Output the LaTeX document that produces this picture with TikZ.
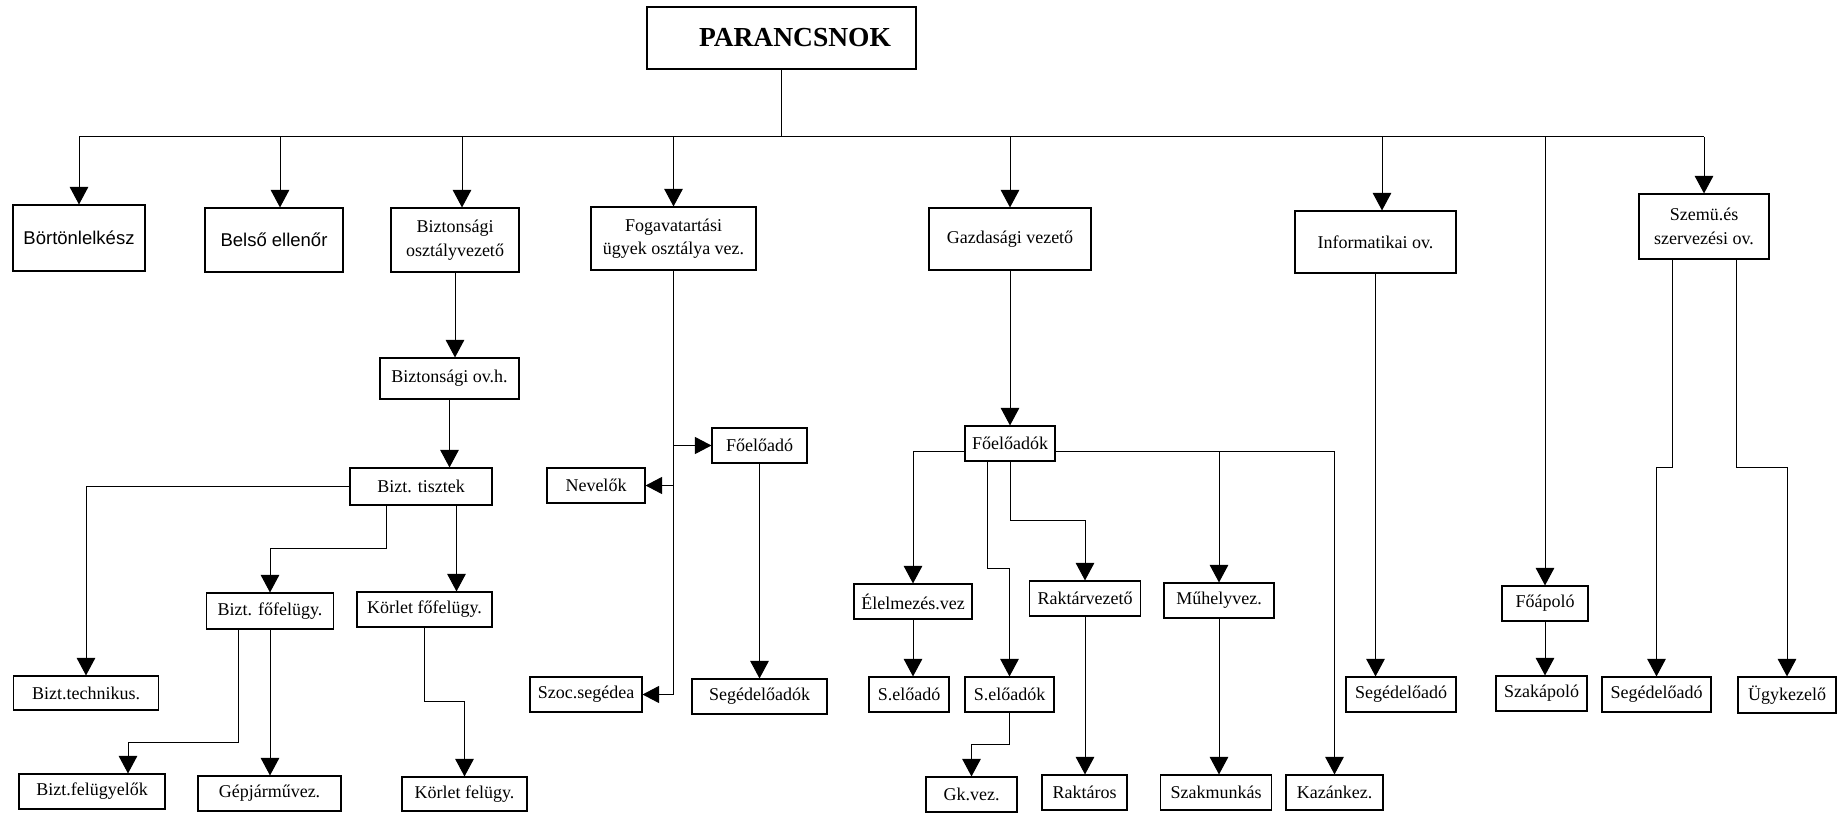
\documentclass[tikz,border=0pt]{standalone}
\usepackage{fontspec}
\setmainfont{Liberation Serif}
\newfontfamily\arialfont{Liberation Sans}
\usepackage{tikz}
\usetikzlibrary{arrows.meta}
\tikzstyle{box} = [draw, line width=1.1pt, inner sep=0pt, align=center, font=\fontsize{18}{23.5}\selectfont]
\tikzstyle{sansbox} = [box, font=\arialfont\fontsize{18.5}{22}\selectfont]
\tikzstyle{arr} = [-{Triangle[length=17.5pt,width=18.5pt]}]
\tikzstyle{sidearr} = [-{Triangle[length=16.5pt,width=17pt]}]

\begin{document}
\begin{tikzpicture}[x=1pt,y=-1pt,line width=1pt]
\useasboundingbox (0,0) rectangle (1838,813);
\node[box, minimum width=269pt, minimum height=62pt, font=\bfseries\fontsize{27.5}{33}\selectfont] (cmd) at (781.5,38) {\hspace*{27pt}PARANCSNOK};
\node[sansbox, minimum width=132pt, minimum height=66pt] (bortonlelkesz) at (79,238) {Börtönlelkész};
\node[sansbox, minimum width=138pt, minimum height=64pt] (belso) at (274,240) {Belső ellenőr};
\node[box, minimum width=128pt, minimum height=64pt] (biztov) at (455,240) {Biztonsági\\osztályvezető};
\node[box, minimum width=165pt, minimum height=63pt] (fogav) at (673.5,238.5) {Fogavatartási\\ügyek osztálya vez.};
\node[box, minimum width=162pt, minimum height=62pt] (gazd) at (1010,239) {Gazdasági vezető};
\node[box, minimum width=161pt, minimum height=62pt] (inform) at (1375.5,242) {Informatikai ov.};
\node[box, minimum width=130pt, minimum height=65pt] (szemu) at (1704,226.5) {Szemü.és\\szervezési ov.};

\node[box, minimum width=139pt, minimum height=41pt] (biztovh) at (449.5,378.5) {Biztonsági ov.h.};
\node[box, minimum width=142pt, minimum height=37pt] (tisztek) at (421,486.5) {Bizt. tisztek};
\node[box, minimum width=145pt, minimum height=34pt] (technikus) at (86,693) {Bizt.technikus.};
\node[box, minimum width=127pt, minimum height=36pt] (fofelugy) at (270,611) {Bizt. főfelügy.};
\node[box, minimum width=135pt, minimum height=35pt] (korletfo) at (424.5,609.5) {Körlet főfelügy.};
\node[box, minimum width=125pt, minimum height=34pt] (korlet) at (464.5,794) {Körlet felügy.};
\node[box, minimum width=146pt, minimum height=35pt] (felugyelok) at (92,791.5) {Bizt.felügyelők};
\node[box, minimum width=143pt, minimum height=35pt] (gepjarmu) at (269.5,793.5) {Gépjárművez.};

\node[box, minimum width=95pt, minimum height=35pt] (foeloado) at (759.5,445.5) {Főelőadó};
\node[box, minimum width=98pt, minimum height=35pt] (nevelok) at (596,485.5) {Nevelők};
\node[box, minimum width=112pt, minimum height=35pt] (szoc) at (586,694.5) {Szoc.segédea};
\node[box, minimum width=135pt, minimum height=35pt] (segedeloadok) at (759.5,696.5) {Segédelőadók};

\node[box, minimum width=90pt, minimum height=35pt] (foeloadok) at (1010,443.5) {Főelőadók};
\node[box, minimum width=118pt, minimum height=35pt] (elelmezes) at (913,601.5) {Élelmezés.vez};
\node[box, minimum width=80pt, minimum height=35pt] (seloado) at (909,694.5) {S.előadó};
\node[box, minimum width=89pt, minimum height=35pt] (seloadok) at (1009.5,694.5) {S.előadók};
\node[box, minimum width=91pt, minimum height=35pt] (gkvez) at (971.5,794.5) {Gk.vez.};
\node[box, minimum width=111pt, minimum height=35pt] (raktarvez) at (1085,598.5) {Raktárvezető};
\node[box, minimum width=85pt, minimum height=35pt] (raktaros) at (1084.5,792.5) {Raktáros};
\node[box, minimum width=110pt, minimum height=35pt] (muhely) at (1219,600.5) {Műhelyvez.};
\node[box, minimum width=111pt, minimum height=35pt] (szakmunkas) at (1216,792.5) {Szakmunkás};
\node[box, minimum width=97pt, minimum height=35pt] (kazan) at (1334.5,792.5) {Kazánkez.};

\node[box, minimum width=110pt, minimum height=35pt] (segedinf) at (1401,694.5) {Segédelőadó};
\node[box, minimum width=86pt, minimum height=35pt] (foapolo) at (1545,603.5) {Főápoló};
\node[box, minimum width=91pt, minimum height=35pt] (szakapolo) at (1541.5,693.5) {Szakápoló};
\node[box, minimum width=109pt, minimum height=35pt] (segedszem) at (1656.5,694.5) {Segédelőadó};
\node[box, minimum width=98pt, minimum height=36pt] (ugykezelo) at (1787,695) {Ügykezelő};

\coordinate (busL) at (79,137);
\coordinate (busR) at (1704,137);
\draw (cmd.south) -- (cmd.south |- busL);
\draw (busL) -- (busR);
\draw[arr] (busL) -- (bortonlelkesz.north);
\draw[arr] ([xshift=6pt]belso.north |- busL) -- ([xshift=6pt]belso.north);
\draw[arr] ([xshift=7pt]biztov.north |- busL) -- ([xshift=7pt]biztov.north);
\draw[arr] (fogav.north |- busL) -- (fogav.north);
\draw[arr] (gazd.north |- busL) -- (gazd.north);
\draw[arr] ([xshift=6.5pt]inform.north |- busL) -- ([xshift=6.5pt]inform.north);
\draw[arr] (foapolo.north |- busL) -- (foapolo.north);
\draw[arr] (busR) -- (szemu.north);

\draw[arr] (biztov.south) -- (biztov.south |- biztovh.north);
\draw[arr] (biztovh.south) -- (biztovh.south |- tisztek.north);
\draw[arr] (tisztek.west) -| (technikus.north);
\draw[arr] ([xshift=-35pt]tisztek.south) -- ++(0,43) -| (fofelugy.north);
\draw[arr] ([xshift=35.5pt]tisztek.south) -- ([xshift=35.5pt]tisztek.south |- korletfo.north);
\draw[arr] (korletfo.south) -- ++(0,74) -| (korlet.north);
\draw[arr] ([xshift=-32pt]fofelugy.south) -- ++(0,113) -| ([xshift=36pt]felugyelok.north);
\draw[arr] (fofelugy.south) -- (fofelugy.south |- gepjarmu.north);

\draw[sidearr] (fogav.south) |- (szoc.east);
\draw[sidearr] (fogav.south |- foeloado.west) -- (foeloado.west);
\draw[sidearr] (fogav.south |- nevelok.east) -- (nevelok.east);
\draw[arr] (foeloado.south) -- (segedeloadok.north);

\draw[arr] (gazd.south) -- (foeloadok.north);
\draw[arr] ([yshift=-8pt]foeloadok.west) -| (elelmezes.north);
\draw[arr] ([xshift=-23pt]foeloadok.south) -- ++(0,107) -| (seloadok.north);
\draw[arr] (foeloadok.south) -- ++(0,59) -| (raktarvez.north);
\draw[arr] ([yshift=-8pt]foeloadok.east) -| (muhely.north);
\draw[arr] ([yshift=-8pt]foeloadok.east) -| (kazan.north);
\draw[arr] (elelmezes.south) -- (elelmezes.south |- seloado.north);
\draw[arr] (seloadok.south) -- ++(0,32) -| (gkvez.north);
\draw[arr] (raktarvez.south) -- (raktarvez.south |- raktaros.north);
\draw[arr] (muhely.south) -- (muhely.south |- szakmunkas.north);

\draw[arr] (inform.south) -- (inform.south |- segedinf.north);
\draw[arr] (foapolo.south) -- (foapolo.south |- szakapolo.north);
\draw[arr] ([xshift=-32pt]szemu.south) -- ++(0,208) -| (segedszem.north);
\draw[arr] ([xshift=32pt]szemu.south) -- ++(0,208) -| (ugykezelo.north);
\end{tikzpicture}
\end{document}
